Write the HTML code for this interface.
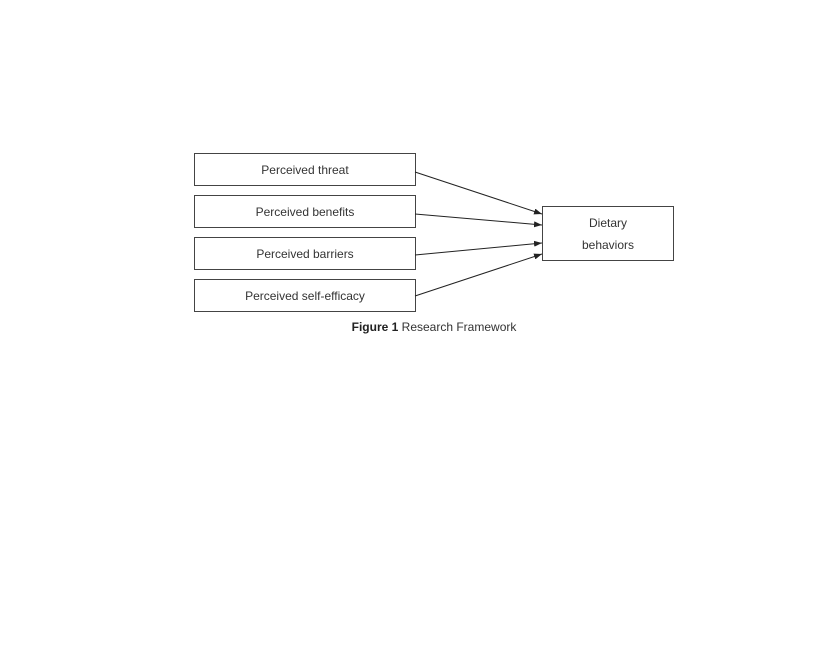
<!DOCTYPE html>
<html><head><style>
body{margin:0;width:836px;height:642px;background:#fff;overflow:hidden}
svg text{font-family:"Liberation Sans",sans-serif;fill:#333}
</style></head><body>
<svg width="836" height="642" xmlns="http://www.w3.org/2000/svg">
<defs><marker id="a" markerWidth="8" markerHeight="6" refX="8" refY="3" orient="auto" markerUnits="userSpaceOnUse"><path d="M0,0 L8,3 L0,6z" fill="#222"/></marker></defs>
<g fill="none" stroke="#444" stroke-width="1">
<rect x="194.5" y="153.5" width="221" height="32"/>
<rect x="194.5" y="195.5" width="221" height="32"/>
<rect x="194.5" y="237.5" width="221" height="32"/>
<rect x="194.5" y="279.5" width="221" height="32"/>
<rect x="542.5" y="206.5" width="131" height="54"/>
</g>
<g stroke="#222" stroke-width="1" marker-end="url(#a)">
<line x1="415" y1="172" x2="542" y2="214"/>
<line x1="415" y1="214" x2="542" y2="225"/>
<line x1="415" y1="255" x2="542" y2="243"/>
<line x1="415" y1="296" x2="542" y2="254"/>
</g>
<g font-size="12" text-anchor="middle">
<text x="305" y="174">Perceived threat</text>
<text x="305" y="216">Perceived benefits</text>
<text x="305" y="258">Perceived barriers</text>
<text x="305" y="300">Perceived self-efficacy</text>
<text x="608" y="227">Dietary</text>
<text x="608" y="249">behaviors</text>
<text x="434" y="331"><tspan font-weight="bold" fill="#222">Figure 1</tspan> Research Framework</text>
</g>
</svg>
</body></html>
